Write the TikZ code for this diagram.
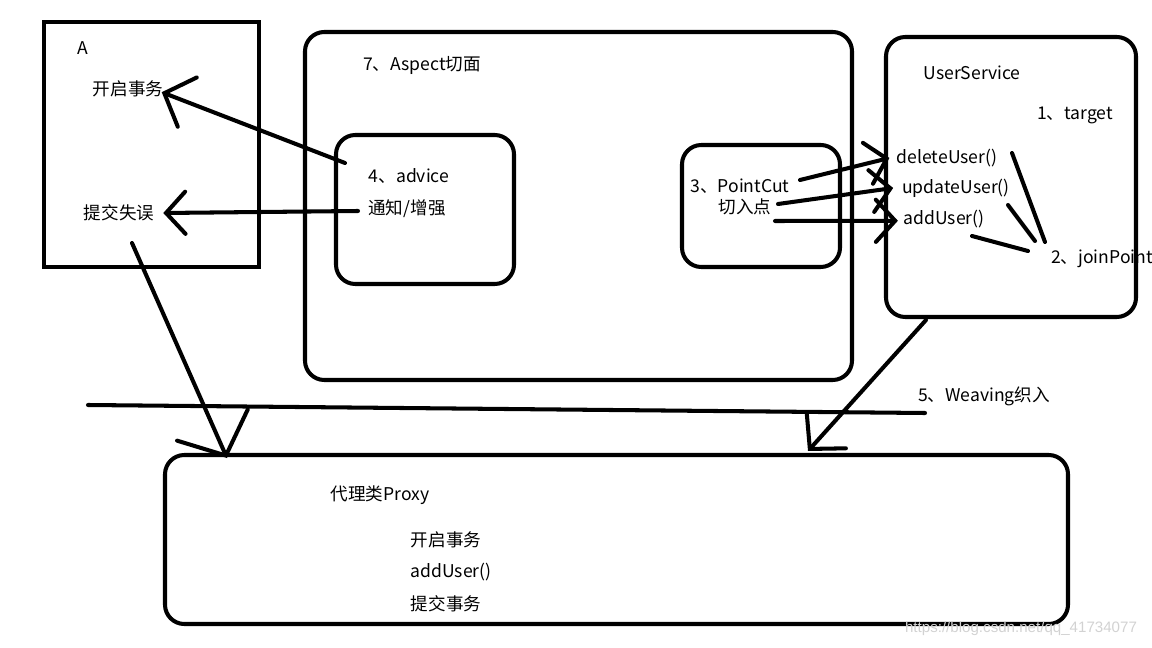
\documentclass[tikz,border=0pt]{standalone}
\usepackage{fontspec}
\setmainfont{Noto Sans CJK SC}
\newfontfamily\wmfont{Liberation Sans}
\usetikzlibrary{arrows.meta}

\begin{document}
\begin{tikzpicture}[x=0.02cm,y=-0.02cm,
    pen/.style={line width=2.3pt,line cap=round},
    rbox/.style={pen,rounded corners=11pt},
    arr/.style={pen,-{Straight Barb[length=11pt,width=24pt,line cap=round]}},
    midarr/.style={pen,-{Straight Barb[length=14pt,width=30pt,line cap=round]}},
    bigarr/.style={pen,-{Straight Barb[length=19pt,width=44pt,line cap=round]}},
    txt/.style={font=\fontsize{10pt}{12pt}\selectfont,inner sep=0pt}]
      \useasboundingbox (0,0) rectangle (1152,648);

      % boxes
      \draw[pen,line cap=butt] (44,22) rectangle (259,267);
      \draw[rbox] (305,32) rectangle (852,380);
      \draw[rbox] (336,135) rectangle (514,284);
      \draw[rbox] (682,145) rectangle (840,267);
      \draw[rbox] (886,37) rectangle (1136,317);
      \draw[rbox] (165,455) rectangle (1068,624);

      % texts
      \node[txt] (a) at (83,48) {A};
      \node[txt] (kq) at (128,89) {开启事务};
      \node[txt] (tj) at (119,213) {提交失误};
      \node[txt] (aspect) at (422,65) {7、Aspect切面};
      \node[txt] (adv) at (409,176) {4、advice};
      \node[txt] (tz) at (407,209) {通知/增强};
      \node[txt] (pc) at (740,186) {3、PointCut};
      \node[txt] (qr) at (745,207) {切入点};
      \node[txt] (us) at (972,73) {UserService};
      \node[txt] (tgt) at (1075,115) {1、target};
      \node[txt] (del) at (947,158) {deleteUser()};
      \node[txt] (upd) at (956,188) {updateUser()};
      \node[txt] (add) at (944,219) {addUser()};
      \node[txt] (jp) at (1102,259) {2、joinPoint};
      \node[txt] (weave) at (984,396) {5、Weaving织入};
      \node[txt] (proxy) at (380,495) {代理类Proxy};
      \node[txt] (p1) at (446,540) {开启事务};
      \node[txt] (p2) at (451,572) {addUser()};
      \node[txt] (p3) at (446,604) {提交事务};
      \node[inner sep=0pt,text=gray!35,font=\wmfont\fontsize{8.6pt}{10pt}\selectfont] (wm) at (1021,629) {https://blog.csdn.net/qq\_41734077};

      % advice -> A
      \coordinate (adv1) at (345,163);
      \coordinate (adv2) at (358,211);
      \draw[midarr] (adv1) -- ([xshift=-1pt,yshift=3pt]kq.south east);
      \draw[arr] (adv2) -- ([xshift=5pt]tj.east);

      % pointcut -> joinpoints
      \coordinate (pc1) at (800,180);
      \coordinate (pc2) at (778,204);
      \coordinate (pc3) at (775,221);
      \draw[arr] (pc1) -- ([xshift=-4pt]del.west);
      \draw[arr] (pc2) -- ([xshift=-5pt]upd.west);
      \draw[arr] (pc3) -- ([xshift=-3pt,yshift=-1pt]add.west);

      % joinPoint marks
      \coordinate (j1) at (1045,242);
      \coordinate (j2) at (1035,241);
      \coordinate (j3) at (1028,251);
      \draw[pen] (j1) -- (1012,153);
      \draw[pen] (j2) -- (1008,205);
      \draw[pen] (j3) -- (972,236);

      % weaving
      \draw[pen] (88,405) -- (925,413);
      \coordinate (fromA) at (132,243);
      \coordinate (toP1) at (227,458);
      \coordinate (fromUS) at (926,320);
      \coordinate (toP2) at (808,451);
      \draw[bigarr] (fromA) -- (toP1);
      \draw[midarr] (fromUS) -- (toP2);
\end{tikzpicture}
\end{document}
